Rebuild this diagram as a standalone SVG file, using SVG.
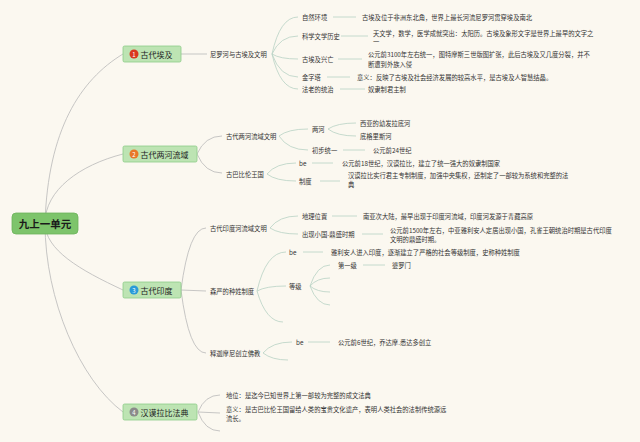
<svg xmlns="http://www.w3.org/2000/svg" width="640" height="442" viewBox="0 0 640 442">
<style>
text{font-family:"Noto Sans CJK SC","Noto Sans",sans-serif;fill:#333;dominant-baseline:central}
.t{font-size:6.3px}
.bl{font-size:8px;fill:#222}
.rt{font-size:10.5px;font-weight:bold;fill:#1a1a1a;text-anchor:middle}
.num{font-size:6px;fill:#fff;text-anchor:middle}
.box{fill:#bde4b3;stroke:#8dcb88;stroke-width:0.8}
.c0{fill:none;stroke:#b9b9b9;stroke-width:0.8}
.c{fill:none;stroke:#b7d2c4;stroke-width:0.8}
</style>
<rect width="640" height="442" fill="#fbf8f0"/>
<g id="connectors">
<path class="c0" d="M45,223 C48,130 80,80 123,54"/>
<path class="c0" d="M45,223 C45,190 80,165 123,154"/>
<path class="c0" d="M45,223 C45,250 80,270 123,290"/>
<path class="c0" d="M45,223 C45,300 80,380 123,412"/>
<path class="c0" d="M181,54 L207,54"/>
<path class="c" d="M272,54 Q280,17 298,17"/>
<path class="c" d="M272,54 Q280,36 298,36"/>
<path class="c" d="M272,54 Q280,59 298,59"/>
<path class="c" d="M272,54 Q280,77 298,77"/>
<path class="c" d="M272,54 Q280,89 298,89"/>
<path class="c" d="M333,17 L356,17"/>
<path class="c" d="M341,36 L368,36"/>
<path class="c" d="M338,59 L362,59"/>
<path class="c" d="M327,77 L350,77"/>
<path class="c" d="M340,89 L365,89"/>
<path class="c0" d="M197,154 Q205,136 222,136"/>
<path class="c0" d="M197,154 Q205,173 222,173"/>
<path class="c" d="M279,136 Q288,129 308,129"/>
<path class="c" d="M279,136 Q288,150 308,150"/>
<path class="c" d="M328,129 Q337,123 356,123"/>
<path class="c" d="M328,129 Q337,136 356,136"/>
<path class="c" d="M343,150 L365,150"/>
<path class="c" d="M267,174 Q276,163 296,163"/>
<path class="c" d="M267,174 Q276,181 296,181"/>
<path class="c" d="M312,163 L333,163"/>
<path class="c" d="M320,181 L340,181"/>
<path class="c0" d="M181,290 Q189,228 206,228"/>
<path class="c0" d="M181,290 L206,291"/>
<path class="c0" d="M181,290 Q189,353 206,353"/>
<path class="c" d="M270,228 Q279,216 298,216"/>
<path class="c" d="M270,228 Q279,234 298,234"/>
<path class="c" d="M332,216 L357,216"/>
<path class="c" d="M362,234 L383,234"/>
<path class="c" d="M257,291 Q266,252 286,252"/>
<path class="c" d="M257,291 Q266,286 286,286"/>
<path class="c" d="M257,291 Q266,322 283,322"/>
<path class="c" d="M303,252 L323,252"/>
<path class="c" d="M310,286 Q317,265 330,265"/>
<path class="c" d="M310,286 Q317,278 330,278"/>
<path class="c" d="M310,286 Q317,292 330,292"/>
<path class="c" d="M310,286 Q317,305 330,305"/>
<path class="c" d="M363,265 L385,265"/>
<path class="c" d="M263,353 Q272,342 292,342"/>
<path class="c" d="M263,353 Q272,360 288,360"/>
<path class="c" d="M308,342 L330,342"/>
<path class="c0" d="M198,412 Q205,395 220,395"/>
<path class="c0" d="M198,412 L220,413"/>
<path class="c0" d="M198,412 Q205,431 220,431"/>
</g>
<g id="root">
<rect x="12" y="213" width="66" height="21" rx="4" fill="#7dc46b" stroke="#6cb35b" stroke-width="0.8"/>
<text class="rt" x="45" y="223.5">九上一单元</text>
</g>
<g id="b1">
<rect class="box" x="123" y="46" width="58" height="16" rx="1.5"/>
<circle cx="134" cy="54" r="4.5" fill="#d9381e"/>
<text class="num" x="134" y="54">1</text>
<text class="bl" x="140.5" y="54">古代埃及</text>
</g>
<g id="b2">
<rect class="box" x="123" y="146" width="74" height="16" rx="1.5"/>
<circle cx="134" cy="154" r="4.5" fill="#e8782a"/>
<text class="num" x="134" y="154">2</text>
<text class="bl" x="140.5" y="154">古代两河流域</text>
</g>
<g id="b3">
<rect class="box" x="123" y="282" width="58" height="16" rx="1.5"/>
<circle cx="134" cy="290" r="4.5" fill="#2a9ad8"/>
<text class="num" x="134" y="290">3</text>
<text class="bl" x="140.5" y="290">古代印度</text>
</g>
<g id="b4">
<rect class="box" x="123" y="404" width="74" height="16" rx="1.5"/>
<circle cx="134" cy="412" r="4.5" fill="#8a8a8a"/>
<text class="num" x="134" y="412">4</text>
<text class="bl" x="140.5" y="412">汉谟拉比法典</text>
</g>
<g id="n-niluo"><text class="t" x="210" y="54">尼罗河与古埃及文明</text></g>
<g id="n-ziran"><text class="t" x="302" y="17">自然环境</text><text class="t" x="362" y="17">古埃及位于非洲东北角，世界上最长河流尼罗河贯穿埃及南北</text></g>
<g id="n-kexue"><text class="t" x="302" y="36">科学文学历史</text><text class="t" x="373" y="33">天文学，数学，医学成就突出：太阳历。古埃及象形文字是世界上最早的文字之</text><text class="t" x="373" y="41">一</text></g>
<g id="n-xingwang"><text class="t" x="302" y="59">古埃及兴亡</text><text class="t" x="368" y="54">公元前3100年左右统一，图特摩斯三世版图扩张，此后古埃及又几度分裂，并不</text><text class="t" x="368" y="64">断遭到外族入侵</text></g>
<g id="n-jinzita"><text class="t" x="302" y="77">金字塔</text><text class="t" x="357" y="77">意义：反映了古埃及社会经济发展的较高水平，是古埃及人智慧结晶。</text></g>
<g id="n-falao"><text class="t" x="302" y="89">法老的统治</text><text class="t" x="368" y="89">奴隶制君主制</text></g>
<g id="n-lianghewm"><text class="t" x="226" y="136">古代两河流域文明</text></g>
<g id="n-lianghe"><text class="t" x="312" y="129">两河</text></g>
<g id="n-youfa"><text class="t" x="360" y="123">西亚的幼发拉底河</text></g>
<g id="n-dige"><text class="t" x="360" y="136">底格里斯河</text></g>
<g id="n-chubu"><text class="t" x="312" y="150">初步统一</text><text class="t" x="373" y="150">公元前24世纪</text></g>
<g id="n-gubabilun"><text class="t" x="226" y="174">古巴比伦王国</text></g>
<g id="n-be1"><text class="t" x="299" y="163">be</text><text class="t" x="342" y="163">公元前18世纪，汉谟拉比，建立了统一强大的奴隶制国家</text></g>
<g id="n-zhidu"><text class="t" x="299" y="181">制度</text><text class="t" x="348" y="175">汉谟拉比实行君主专制制度，加强中央集权，还制定了一部较为系统和完整的法</text><text class="t" x="348" y="184">典</text></g>
<g id="n-yinduwm"><text class="t" x="210" y="228">古代印度河流域文明</text></g>
<g id="n-dili"><text class="t" x="302" y="216">地理位置</text><text class="t" x="363" y="216">南亚次大陆，最早出现于印度河流域，印度河发源于青藏高原</text></g>
<g id="n-xiaoguo"><text class="t" x="302" y="234">出现小国-鼎盛时期</text><text class="t" x="390" y="230">公元前1500年左右，中亚雅利安人定居出现小国，孔雀王朝统治时期是古代印度</text><text class="t" x="390" y="239">文明的鼎盛时期。</text></g>
<g id="n-zhongxing"><text class="t" x="210" y="291">森严的种姓制度</text></g>
<g id="n-be2"><text class="t" x="289" y="252">be</text><text class="t" x="331" y="252">雅利安人进入印度，逐渐建立了严格的社会等级制度，史称种姓制度</text></g>
<g id="n-dengji"><text class="t" x="289" y="286">等级</text></g>
<g id="n-diyiji"><text class="t" x="338" y="265">第一级</text><text class="t" x="392" y="265">婆罗门</text></g>
<g id="n-fojiao"><text class="t" x="210" y="353">释迦摩尼创立佛教</text></g>
<g id="n-be3"><text class="t" x="296" y="342">be</text><text class="t" x="338" y="342">公元前6世纪，乔达摩.悉达多创立</text></g>
<g id="n-diwei"><text class="t" x="226" y="395">地位：是迄今已知世界上第一部较为完整的成文法典</text></g>
<g id="n-yiyi"><text class="t" x="226" y="409">意义：是古巴比伦王国留给人类的宝贵文化遗产，表明人类社会的法制传统源远</text><text class="t" x="226" y="418">流长。</text></g>
</svg>
